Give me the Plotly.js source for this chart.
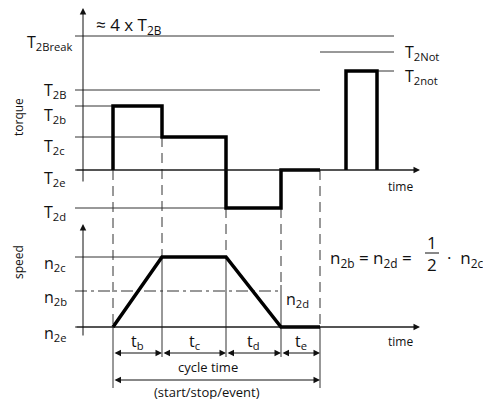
<!DOCTYPE html>
<html>
<head>
<meta charset="utf-8">
<script src="https://cdn.plot.ly/plotly-3.0.1.min.js"></script>
<style>html,body{margin:0;padding:0;background:#fff;}#chart{width:483px;height:399px;}</style>
</head>
<body>
<div id="chart"></div>
<script>
// ---- diagram data (schematic units) ----
const phaseNames = ['t<sub>b</sub>', 't<sub>c</sub>', 't<sub>d</sub>', 't<sub>e</sub>'];
const phaseBounds = [113, 162, 226, 281, 320];
const torqueNames = ['T<sub>2Break</sub>', 'T<sub>2B</sub>', 'T<sub>2b</sub>', 'T<sub>2c</sub>', 'T<sub>2e</sub>', 'T<sub>2d</sub>'];
const torqueLevels = [36, 90, 106, 137, 170, 208];
const torqueInPhase = [106, 137, 208, 170];
const speedNames = ['n<sub>2c</sub>', 'n<sub>2b</sub>', 'n<sub>2e</sub>'];
const speedLevels = [257, 291, 327];
const speedAtBounds = [327, 257, 257, 327, 327];
const notNames = ['T<sub>2Not</sub>', 'T<sub>2not</sub>'];
const notLevels = [52, 71];
const notPulse = [346, 377];

// ---- styles / layout constants ----
const FONT = 'Open Sans, Noto Sans, sans-serif';
const INK = '#111';
const THIN = '#333';
const axisX = 83;
const lineStart = 75;
const timeEnd = 420;

const traces = [];
function seg(x, y, opts) {
  traces.push(Object.assign({
    type: 'scatter', mode: 'lines', x: x, y: y, hoverinfo: 'skip',
    line: {color: THIN, width: 1}
  }, opts || {}));
}
const B = phaseBounds;
const TL = torqueLevels;
const SL = speedLevels;

// torque reference lines
seg([lineStart, 394], [TL[0], TL[0]]);                 // T2Break
seg([lineStart, B[4]], [TL[1], TL[1]]);                // T2B
seg([lineStart, B[0]], [TL[2], TL[2]]);                // T2b
seg([lineStart, B[1]], [TL[3], TL[3]]);                // T2c
seg([lineStart, timeEnd - 4], [TL[4], TL[4]]);         // T2e (time axis)
seg([lineStart, B[2]], [TL[5], TL[5]]);                // T2d
seg([B[4], 394], [notLevels[0], notLevels[0]]);        // T2Not
seg([notPulse[0], 394], [notLevels[1], notLevels[1]]); // T2not

// speed reference lines
seg([lineStart, B[2]], [SL[0], SL[0]]);                // n2c
seg([lineStart, B[3]], [SL[1], SL[1]], {line: {color: THIN, width: 1, dash: '12px,4px,3px,4px'}}); // n2b
seg([lineStart, timeEnd - 4], [SL[2], SL[2]]);         // n2e (time axis)

// dashed phase boundaries
const dashStyle = {color: THIN, width: 1, dash: '10px,6px'};
seg([B[0], B[0]], [TL[4], SL[2]], {line: dashStyle});
seg([B[1], B[1]], [TL[3], SL[0]], {line: dashStyle});
seg([B[2], B[2]], [TL[5], SL[0]], {line: dashStyle});
seg([B[3], B[3]], [TL[5], SL[1] - 6], {line: dashStyle});
seg([B[4], B[4]], [TL[4], SL[2]], {line: dashStyle});
// solid extension lines
seg([B[0], B[0]], [SL[2], 388]);
seg([B[1], B[1]], [SL[0], 357]);
seg([B[2], B[2]], [SL[0], 357]);
seg([B[3], B[3]], [SL[1] - 6, 357]);
seg([B[4], B[4]], [SL[2], 388]);

// thick torque profile
const tx = [B[0]], ty = [TL[4]];
for (let i = 0; i < torqueInPhase.length; i++) {
  tx.push(B[i], B[i + 1]);
  ty.push(torqueInPhase[i], torqueInPhase[i]);
}
seg(tx, ty, {line: {color: '#000', width: 3.5}});
seg([notPulse[0], notPulse[0], notPulse[1], notPulse[1]], [TL[4], notLevels[1], notLevels[1], TL[4]], {line: {color: '#000', width: 3.5}});
// thick speed profile
seg(B, speedAtBounds, {line: {color: '#000', width: 3.5}});

// ---- annotations ----
const ann = [];
function txt(text, x, y, size, xa, ya, extra) {
  ann.push(Object.assign({text: text, x: x, y: y, xref: 'x', yref: 'y', showarrow: false,
    xanchor: xa || 'left', yanchor: ya || 'middle', font: {family: FONT, size: size, color: INK}}, extra || {}));
}
function arrow(x0, y0, x1, y1, both) {
  ann.push({x: x1, y: y1, ax: x0, ay: y0, xref: 'x', yref: 'y', axref: 'x', ayref: 'y', text: '',
    showarrow: true, arrowhead: 2, arrowsize: 1.3, arrowwidth: 1, arrowcolor: INK,
    arrowside: both ? 'end+start' : 'end'});
}
// axes arrows
arrow(axisX, 183, axisX, 8);
arrow(axisX, 337, axisX, 224);
arrow(lineStart, TL[4], timeEnd, TL[4]);
arrow(lineStart, SL[2], timeEnd, SL[2]);

// torque labels
const torqueLabelY = [42, 90, 115, 146, 178, 212];
torqueNames.forEach((n, i) => txt(n, i === 0 ? 25 : 42, torqueLabelY[i], 16, 'left', 'middle'));
const speedLabelY = [263, 297, 333];
speedNames.forEach((n, i) => txt(n, 42, speedLabelY[i], 16, 'left', 'middle'));
txt(notNames[0], 403, 52, 16, 'left', 'middle');
txt(notNames[1], 403, 76, 16, 'left', 'middle');
txt('≈ 4 x T<sub>2B</sub>', 94, 25, 17, 'left', 'middle');
txt('time', 386, 186, 12, 'left', 'middle');
txt('time', 386, 341, 12, 'left', 'middle');
txt('torque', 18, 117, 12, 'center', 'middle', {textangle: -90});
txt('speed', 18, 262, 12, 'center', 'middle', {textangle: -90});
txt('n<sub>2d</sub>', 284, 299, 16, 'left', 'middle');

// phase dimension arrows and labels
for (let i = 0; i < phaseNames.length; i++) {
  arrow(B[i], 353, B[i + 1], 353, true);
  txt(phaseNames[i], (B[i] + B[i + 1]) / 2, 341, 16, 'center', 'middle');
}
arrow(B[0], 380, B[4], 380, true);
txt('cycle time', 208, 367, 13, 'center', 'middle');
txt('(start/stop/event)', 207, 392, 13, 'center', 'middle');

// equation
txt('n<sub>2b</sub> = n<sub>2d</sub> =', 328, 258, 17, 'left', 'middle');
txt('1', 432, 242, 17, 'center', 'middle');
txt('2', 432, 264, 17, 'center', 'middle');
seg([425, 439], [253, 253], {line: {color: INK, width: 1}});
txt('·  n<sub>2c</sub>', 445, 258, 17, 'left', 'middle');

const layout = {
  width: 483, height: 399,
  margin: {l: 0, r: 0, t: 0, b: 0},
  paper_bgcolor: '#fff', plot_bgcolor: '#fff',
  showlegend: false,
  xaxis: {range: [0, 483], visible: false, fixedrange: true},
  yaxis: {range: [399, 0], visible: false, fixedrange: true},
  annotations: ann
};
Plotly.newPlot('chart', traces, layout, {displayModeBar: false, staticPlot: true});
</script>
</body>
</html>
